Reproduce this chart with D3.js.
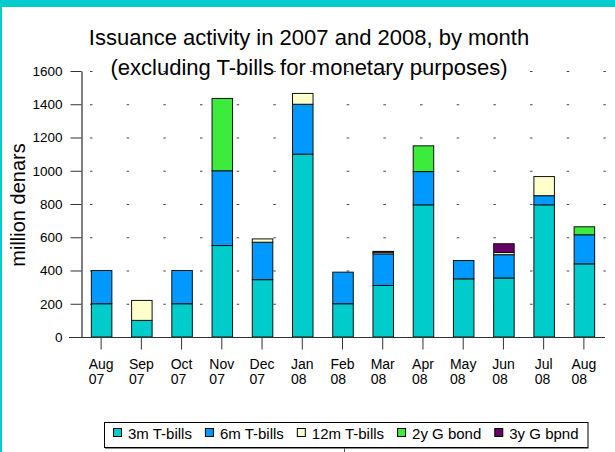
<!DOCTYPE html>
<html><head><meta charset="utf-8">
<script src="https://cdn.jsdelivr.net/npm/d3@7"></script>
<style>
html,body{margin:0;padding:0;background:#fff;}
svg{display:block;font-family:"Liberation Sans",Arial,sans-serif;}
svg text{font-family:"Liberation Sans",Arial,sans-serif;}
</style></head>
<body>
<svg id="c" width="615" height="452"></svg>
<script>
const months = ["Aug|07","Sep|07","Oct|07","Nov|07","Dec|07","Jan|08","Feb|08","Mar|08","Apr|08","May|08","Jun|08","Jul|08","Aug|08"];
const seriesNames = ["3m T-bills","6m T-bills","12m T-bills","2y G bond","3y G bpnd"];
const tbill3m  = [200,100,200,550,345,1100,200,310,795,350,355,795,440];
const tbill6m  = [200,  0,200,450,225, 300,190,190,200,110,140, 55,175];
const tbill12m = [  0,120,  0,  0, 20,  65,  0, 10,  0,  0, 13,115,  0];
const bond2y   = [  0,  0,  0,435,  0,   0,  0,  0,155,  0,  0,  0, 48];
const bond3y   = [  0,  0,  0,  0,  0,   0,  0,  5,  0,  0, 53,  0,  0];
const yTicks = [0,200,400,600,800,1000,1200,1400,1600];
const colors = ["#00CCCC","#0099FF","#FFFFCC","#3DEB3D","#660066"];

const svg = d3.select("#c");
// frame
svg.append("rect").attr("x",0).attr("y",0).attr("width",615).attr("height",7).attr("fill","#00CCCC");
svg.append("rect").attr("x",0).attr("y",0).attr("width",2).attr("height",452).attr("fill","#00CCCC");

const x = d3.scaleBand().domain(months).range([81,604]).paddingInner(0.49).paddingOuter(0.245);
const y = d3.scaleLinear().domain([0,1600]).range([337,71]);

// grid dots
svg.append("g").selectAll("line").data(yTicks.filter(t=>t>0)).join("line")
  .attr("x1",90).attr("x2",606).attr("y1",d=>y(d)+0.5).attr("y2",d=>y(d)+0.5)
  .attr("stroke","#444").attr("stroke-width",1).attr("stroke-dasharray","2.5,34.17");

// stack
const rows = months.map((m,i)=>({m, "3m T-bills":tbill3m[i],"6m T-bills":tbill6m[i],"12m T-bills":tbill12m[i],"2y G bond":bond2y[i],"3y G bpnd":bond3y[i]}));
const stack = d3.stack().keys(seriesNames)(rows);
const g = svg.append("g");
stack.forEach((s,si)=>{
  g.append("g").selectAll("rect").data(s.filter(d=>d[1]-d[0]>0)).join("rect")
    .attr("x",d=>x(d.data.m)+0.5).attr("width",x.bandwidth())
    .attr("y",d=>y(d[1])).attr("height",d=>y(d[0])-y(d[1]))
    .attr("fill",colors[si]).attr("stroke","#111").attr("stroke-width",1);
});

// y axis
const ya = svg.append("g").attr("transform","translate(81.5,0)")
  .call(d3.axisLeft(y).tickValues(yTicks).tickFormat(d3.format("d")).tickSize(11).tickSizeOuter(0).tickPadding(8));
ya.attr("font-family",null);
ya.select(".domain").attr("stroke","#000");
ya.selectAll(".tick line").attr("stroke","#333");
ya.selectAll("text").attr("font-size","13.5px").attr("fill","#000");

// x axis
const xa = svg.append("g").attr("transform","translate(0,337.5)")
  .call(d3.axisBottom(x).tickSize(12).tickSizeOuter(0).tickFormat(""));
xa.select(".domain").attr("stroke","#333").attr("d","M69,0H605");
xa.selectAll(".tick line").attr("stroke","#333");
const xl = svg.append("g");
months.forEach(m=>{
  const [a,b] = m.split("|");
  const cx = x(m)+x.bandwidth()/2;
  const t = xl.append("text").attr("font-size","14px").attr("fill","#000");
  t.append("tspan").attr("y",369).text(a);
  t.append("tspan").attr("y",384).text(b);
  const w = t.select("tspan").node().getComputedTextLength();
  t.selectAll("tspan").attr("x",cx-w/2);
});

// y label
svg.append("text").attr("transform","translate(25,205) rotate(-90)").attr("text-anchor","middle")
  .attr("font-size","20px").attr("fill","#000").text("million denars");

// title
svg.append("text").attr("x",309).attr("y",45).attr("text-anchor","middle").attr("font-size","22px").attr("fill","#000")
  .text("Issuance activity in 2007 and 2008, by month");
svg.append("text").attr("x",309).attr("y",75).attr("text-anchor","middle").attr("font-size","22px").attr("fill","#000")
  .text("(excluding T-bills for monetary purposes)");

// legend
const lg = svg.append("g");
const box = lg.append("rect").attr("x",104.5).attr("y",422.5).attr("height",25).attr("fill","#fff").attr("stroke","#000");
let lx = 113;
seriesNames.forEach((n,i)=>{
  lg.append("rect").attr("x",lx+0.5).attr("y",428.5).attr("width",8).attr("height",8).attr("fill",colors[i]).attr("stroke","#000");
  const t = lg.append("text").attr("x",lx+15).attr("y",439).attr("font-size","15px").attr("fill","#000").text(n);
  lx += 15 + t.node().getComputedTextLength() + 13;
});
box.attr("width", lx - 13 + 9 - 104);
lg.append("line").attr("x1",105).attr("x2",lx-13+9+1).attr("y1",448.5).attr("y2",448.5).attr("stroke","#888");
lg.append("line").attr("x1",344.5).attr("x2",344.5).attr("y1",448).attr("y2",452).attr("stroke","#555");
</script>
</body></html>
